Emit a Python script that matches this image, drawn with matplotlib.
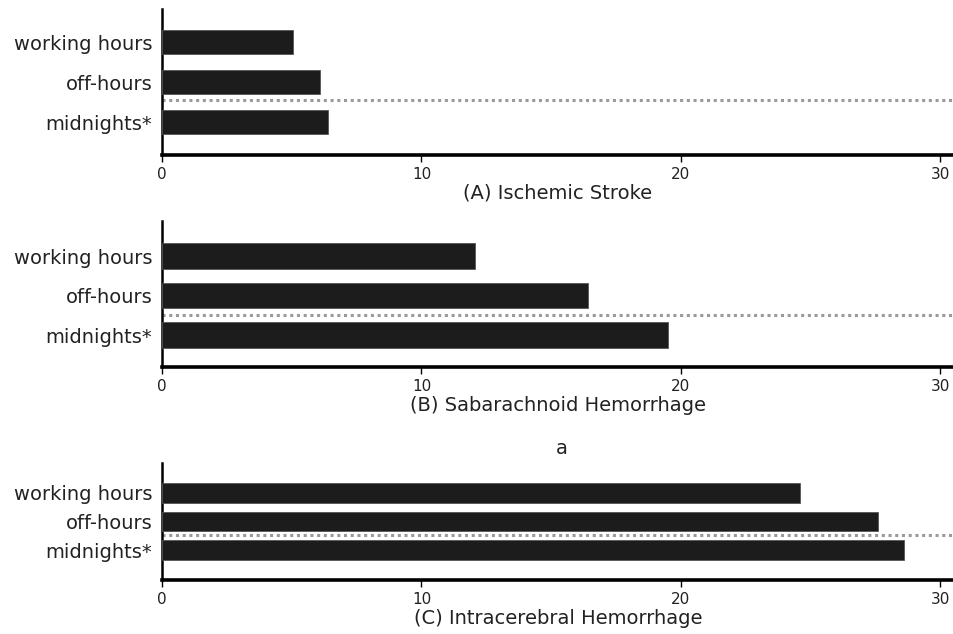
import matplotlib
matplotlib.use("Agg")
import matplotlib.pyplot as plt

categories = ["working hours", "off-hours", "midnights*"]
panel_titles = ["(A) Ischemic Stroke", "(B) Sabarachnoid Hemorrhage", "(C) Intracerebral Hemorrhage"]
ischemic = [5.05, 6.1, 6.4]
sah = [12.05, 16.4, 19.5]
ich = [24.6, 27.6, 28.6]
values = [ischemic, sah, ich]
xticks = [0, 10, 20, 30]

plt.rcParams['font.family'] = ['DejaVu Sans']

W, H = 954, 634
fig = plt.figure(figsize=(W / 100, H / 100), dpi=100)

# (top px, axis px, ylim, bar height, dotted line y)
layouts = [
    (9, 155, (-0.825, 2.825), 0.6, 0.55),
    (221, 367.5, (-0.82, 2.89), 0.65, 0.51),
    (463, 580, (-1.05, 3.05), 0.7, 0.53),
]
left_px = 162
xmax = (W - left_px) / 25.95

for vals, title, (top, bot, ylim, bh, dot_y) in zip(values, panel_titles, layouts):
    ax = fig.add_axes([left_px / W, 1 - bot / H, 1 - left_px / W, (bot - top) / H])
    pos = [2, 1, 0]
    ax.barh(pos, vals, height=bh, color='#1c1c1c', edgecolor='#555555', linewidth=0.6, zorder=3)
    ax.axhline(dot_y, color='#9a9a9a', linestyle=(0, (1, 1.2)), linewidth=2.2, zorder=2)
    ax.set_xlim(0, xmax)
    ax.set_ylim(*ylim)
    ax.set_yticks(pos)
    ax.set_yticklabels(categories, fontsize=14, color='#222222')
    ax.tick_params(axis='y', length=0, pad=7)
    ax.set_xticks(xticks)
    ax.set_xticklabels([str(t) for t in xticks], fontsize=11, color='#222222')
    ax.tick_params(axis='x', length=5, width=1, pad=3.5, direction='out')
    for s in ['top', 'right']:
        ax.spines[s].set_visible(False)
    ax.spines['left'].set_linewidth(1.8)
    ax.spines['bottom'].set_linewidth(2.6)
    ax.spines['bottom'].set_zorder(4)
    ax.set_xlabel(title, fontsize=14, color='#222222', labelpad=1.5)

fig.text(562 / W, 1 - 449 / H, "a", fontsize=14, color='#222222', ha='center', va='center')

fig.savefig("out.png", dpi=100)
